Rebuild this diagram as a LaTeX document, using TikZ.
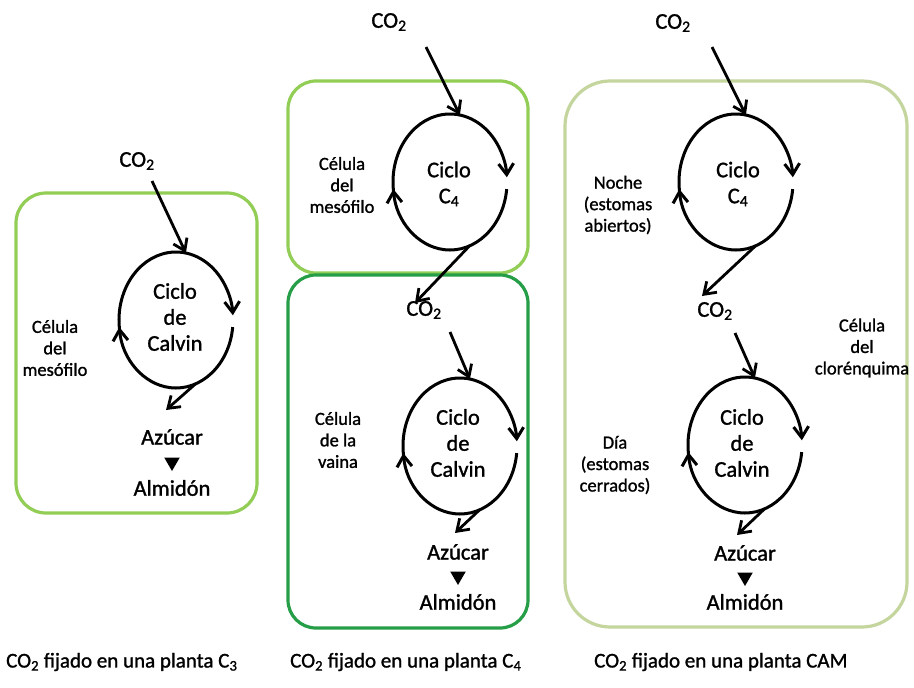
\documentclass[tikz,border=0pt]{standalone}
\usepackage{fontspec}
\setmainfont{Carlito}[FakeBold=0.6]
\newfontfamily\heavyfont{Carlito}[FakeBold=1.2]
\usetikzlibrary{arrows.meta,calc,shapes.geometric}
\definecolor{gA}{RGB}{146,205,85}
\definecolor{gB}{RGB}{38,158,72}
\definecolor{gC}{RGB}{196,214,158}
\newcommand{\mycyc}[1]{%
  \draw[cyc] ($(#1)+(172:57 and 68)$) arc[start angle=172,end angle=356,x radius=57,y radius=68];
  \draw[cyc] ($(#1)+(6:57 and 68)$) arc[start angle=6,end angle=174,x radius=57,y radius=68];}
\begin{document}
\begin{tikzpicture}[x=1pt,y=1pt,yscale=-1,
  lbl/.style={font=\heavyfont\fontsize{22.5}{26}\selectfont, align=center, inner sep=0pt},
  side/.style={font=\heavyfont\fontsize{18.5}{21.5}\selectfont, align=center, inner sep=0pt},
  captxt/.style={font=\heavyfont\fontsize{21}{24}\selectfont, inner sep=0pt, anchor=west},
  cyc/.style={line width=3pt, -{Straight Barb[length=11pt,width=15pt]}},
  arr/.style={line width=2.8pt, -{Straight Barb[length=11pt,width=15pt]}},
  cell/.style={line width=3.2pt},
  tri/.style={regular polygon, regular polygon sides=3, shape border rotate=180, fill=black, minimum size=18pt, inner sep=0pt}]
\useasboundingbox (0,0) rectangle (914,688);
\fill[white] (0,0) rectangle (914,688);

% ---------- C3 ----------
\draw[cell,gA,rounded corners=30pt] (16,193) rectangle (257,513);
\node[lbl] (co2a) at (137,161) {CO\textsubscript{2}};
\coordinate (k1) at (176,320);
\mycyc{k1}
\coordinate (a1s) at (152,181);
\coordinate (a1e) at ($(k1)+(280:57 and 68)$);
\draw[arr] (a1s) -- (a1e);
\node[lbl] (t1) at (175,317) {Ciclo\\de\\Calvin};
\node[side] (s1) at (55,348) {Célula\\del\\mesófilo};
\coordinate (x1s) at ($(k1)+(70:57 and 68)$);
\coordinate (x1e) at (166,410);
\draw[arr] (x1s) -- (x1e);
\node[lbl] (az1) at (172,437) {Azúcar};
\node[tri] (v1) at (172,462) {};
\node[lbl] (al1) at (172,488) {Almidón};

% ---------- C4 ----------
\draw[cell,gA,rounded corners=28pt] (288,81) rectangle (528,273);
\draw[cell,gB,rounded corners=28pt] (288,275) rectangle (528,628);
\node[lbl] (co2b) at (389,22) {CO\textsubscript{2}};
\coordinate (k2) at (450,182);
\mycyc{k2}
\coordinate (a2s) at (426,47);
\coordinate (a2e) at ($(k2)+(280:57 and 68)$);
\draw[arr] (a2s) -- (a2e);
\node[lbl] (t2) at (449,184) {Ciclo\\C\textsubscript{4}};
\node[side] (s2) at (342,185) {Célula\\del\\mesófilo};
\coordinate (x2s) at ($(k2)+(70:57 and 68)$);
\coordinate (x2e) at (415,303);
\draw[arr] (x2s) -- (x2e);
\node[lbl] (co2c) at (424,310) {CO\textsubscript{2}};
\coordinate (k3) at (460,446);
\mycyc{k3}
\coordinate (a3s) at (450,332);
\coordinate (a3e) at ($(k3)+(280:57 and 68)$);
\draw[arr] (a3s) -- (a3e);
\node[lbl] (t3) at (458,443) {Ciclo\\de\\Calvin};
\node[side] (s3) at (338,440) {Célula\\de la\\vaina};
\coordinate (x3s) at ($(k3)+(70:57 and 68)$);
\coordinate (x3e) at (455,533);
\draw[arr] (x3s) -- (x3e);
\node[lbl] (az2) at (458,552) {Azúcar};
\node[tri] (v2) at (458,576) {};
\node[lbl] (al2) at (458,602) {Almidón};

% ---------- CAM ----------
\draw[cell,gC,rounded corners=45pt] (565,81) rectangle (907,627);
\node[lbl] (co2d) at (673,23) {CO\textsubscript{2}};
\coordinate (k4) at (736,182);
\mycyc{k4}
\coordinate (a4s) at (712,47);
\coordinate (a4e) at ($(k4)+(280:57 and 68)$);
\draw[arr] (a4s) -- (a4e);
\node[lbl] (t4) at (738,184) {Ciclo\\C\textsubscript{4}};
\node[side] (s4) at (618,205) {Noche\\(estomas\\abiertos)};
\coordinate (x4s) at ($(k4)+(70:57 and 68)$);
\coordinate (x4e) at (702,296);
\draw[arr] (x4s) -- (x4e);
\node[lbl] (co2e) at (715,311) {CO\textsubscript{2}};
\coordinate (k5) at (745,445);
\mycyc{k5}
\coordinate (a5s) at (735,333);
\coordinate (a5e) at ($(k5)+(280:57 and 68)$);
\draw[arr] (a5s) -- (a5e);
\node[lbl] (t5) at (742,443) {Ciclo\\de\\Calvin};
\node[side] (s5) at (615,465) {Día\\(estomas\\cerrados)};
\node[side] (s6) at (862,348) {Célula\\del\\clorénquima};
\coordinate (x5s) at ($(k5)+(70:57 and 68)$);
\coordinate (x5e) at (737,535);
\draw[arr] (x5s) -- (x5e);
\node[lbl] (az3) at (745,553) {Azúcar};
\node[tri] (v3) at (745,577) {};
\node[lbl] (al3) at (745,602) {Almidón};

% ---------- captions ----------
\node[captxt] (cap1) at (6,662) {CO\textsubscript{2} fijado en una planta C\textsubscript{3}};
\node[captxt] (cap2) at (290,662) {CO\textsubscript{2} fijado en una planta C\textsubscript{4}};
\node[captxt] (cap3) at (594,662) {CO\textsubscript{2} fijado en una planta CAM};
\end{tikzpicture}
\end{document}
